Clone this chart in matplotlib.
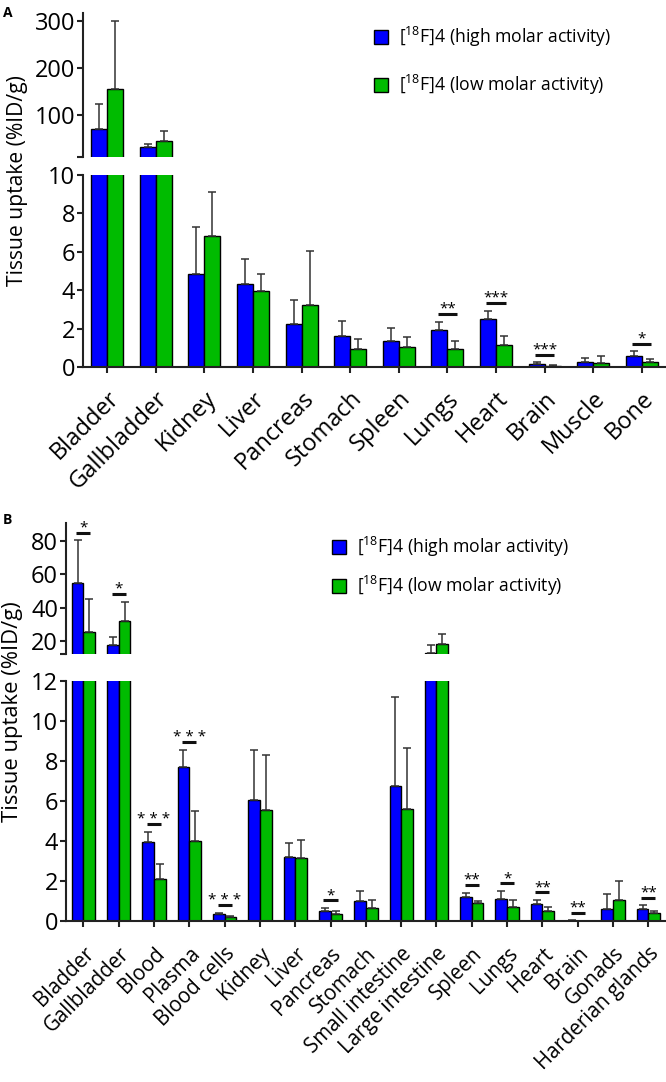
import matplotlib
matplotlib.use('Agg')
import matplotlib.pyplot as plt
import numpy as np
from matplotlib.patches import Patch

plt.rcParams['font.family'] = ['Open Sans', 'DejaVu Sans']
plt.rcParams['mathtext.fontset'] = 'custom'
plt.rcParams['mathtext.rm'] = 'Open Sans'
plt.rcParams['mathtext.it'] = 'Open Sans:italic'
plt.rcParams['mathtext.bf'] = 'Open Sans:bold'

BLUE = '#0000ff'
GREEN = '#00bb00'
AXC = '#222222'

# panel A
tissues_a = ['Bladder', 'Gallbladder', 'Kidney', 'Liver', 'Pancreas', 'Stomach',
             'Spleen', 'Lungs', 'Heart', 'Brain', 'Muscle', 'Bone']
high_a = [71, 33.5, 4.84, 4.34, 2.24, 1.63, 1.37, 1.91, 2.50, 0.18, 0.25, 0.56]
high_a_sd = [53.5, 7, 2.46, 1.30, 1.26, 0.78, 0.65, 0.45, 0.42, 0.07, 0.20, 0.27]
low_a = [156, 46, 6.80, 3.94, 3.21, 0.95, 1.03, 0.94, 1.13, 0.05, 0.22, 0.28]
low_a_sd = [144, 21, 2.33, 0.92, 2.81, 0.49, 0.53, 0.40, 0.48, 0.03, 0.34, 0.15]
sig_a = {'Lungs': '**', 'Heart': '***', 'Brain': '***', 'Bone': '*'}

# panel B
tissues_b = ['Bladder', 'Gallbladder', 'Blood', 'Plasma', 'Blood cells', 'Kidney',
             'Liver', 'Pancreas', 'Stomach', 'Small intestine', 'Large intestine',
             'Spleen', 'Lungs', 'Heart', 'Brain', 'Gonads', 'Harderian glands']
high_b = [55, 17.6, 3.97, 7.69, 0.35, 6.07, 3.19, 0.50, 1.00, 6.74, 13.0,
          1.22, 1.10, 0.85, 0.02, 0.60, 0.62]
high_b_sd = [25.6, 5.0, 0.50, 0.88, 0.06, 2.48, 0.73, 0.15, 0.50, 4.46, 4.5,
             0.20, 0.40, 0.20, 0.01, 0.75, 0.17]
low_b = [25.6, 31.8, 2.09, 4.02, 0.20, 5.55, 3.17, 0.35, 0.65, 5.62, 18.2,
         0.88, 0.68, 0.50, 0.01, 1.05, 0.38]
low_b_sd = [19.4, 11.8, 0.76, 1.47, 0.06, 2.74, 0.90, 0.13, 0.42, 3.03, 6.3,
            0.12, 0.38, 0.22, 0.005, 0.95, 0.13]
sig_b = {'Bladder': '*', 'Gallbladder': '*', 'Blood': '* * *', 'Plasma': '* * *',
         'Blood cells': '* * *', 'Pancreas': '*', 'Spleen': '**', 'Lungs': '*',
         'Heart': '**', 'Brain': '**', 'Harderian glands': '**'}

legend_labels = [r'[$^{18}$F]4 (high molar activity)', r'[$^{18}$F]4 (low molar activity)']

W = 0.33
FIG_H = 1082


def draw_bars(ax, high, high_sd, low, low_sd, ymin):
    x = np.arange(len(high))
    ekw = dict(fmt='none', ecolor='#333333', elinewidth=1.1, capsize=3, capthick=1.1)
    for off, vals, sds, col in [(-W / 2, high, high_sd, BLUE), (W / 2, low, low_sd, GREEN)]:
        vals = np.asarray(vals, float)
        sds = np.asarray(sds, float)
        ax.bar(x + off, vals, W, color=col, edgecolor='black', linewidth=1.0)
        keep = vals >= ymin
        ax.errorbar(x[keep] + off, vals[keep], yerr=[np.zeros(keep.sum()), sds[keep]], **ekw)
    ax.set_xlim(-0.5, len(high) - 0.5)


def style(ax, upper, xsize=16, xpad=12):
    for s in ['top', 'right']:
        ax.spines[s].set_visible(False)
    ax.spines['left'].set_linewidth(1.5)
    ax.spines['left'].set_color(AXC)
    ax.tick_params(axis='y', which='both', length=4, width=1.5, color=AXC,
                   labelsize=17, pad=1.5)
    if upper:
        ax.spines['bottom'].set_visible(False)
        ax.set_xticks([])
        ax.set_yticks([ax.get_ylim()[0]], minor=True)
    else:
        ax.spines['bottom'].set_linewidth(1.5)
        ax.spines['bottom'].set_color(AXC)
        ax.tick_params(axis='x', length=4, width=1.5, color=AXC, labelsize=xsize, pad=xpad)


def px_units(ax):
    lo, hi = ax.get_ylim()
    return (hi - lo) / (ax.get_position().height * FIG_H)


def add_sig(ax_lo, ax_hi, tissues, sig, high, high_sd, low, low_sd):
    for name, label in sig.items():
        i = tissues.index(name)
        top = max(high[i] + high_sd[i], low[i] + low_sd[i])
        ax = ax_lo if top < ax_lo.get_ylim()[1] else ax_hi
        u = px_units(ax)
        y = top + 7.5 * u
        ax.plot([i - 0.2, i + 0.2], [y, y], color='#111111', lw=2.2,
                solid_capstyle='butt', clip_on=False)
        ax.text(i, y + 1.5 * u, label, ha='center', va='baseline', fontsize=11,
                clip_on=False)


def panel(rect_hi, rect_lo, ylim_hi, ylim_lo, ticks_hi, ticks_lo,
          tissues, high, high_sd, low, low_sd, sig, xsize, xpad):
    ax_hi = fig.add_axes(rect_hi)
    ax_lo = fig.add_axes(rect_lo)
    draw_bars(ax_hi, high, high_sd, low, low_sd, ylim_hi[0])
    draw_bars(ax_lo, high, high_sd, low, low_sd, ylim_lo[0])
    ax_hi.set_ylim(*ylim_hi)
    ax_lo.set_ylim(*ylim_lo)
    ax_hi.set_yticks(ticks_hi)
    ax_lo.set_yticks(ticks_lo)
    ax_lo.set_xticks(np.arange(len(tissues)))
    ax_lo.set_xticklabels(tissues, rotation=45, ha='right', rotation_mode='anchor')
    style(ax_hi, True)
    style(ax_lo, False, xsize, xpad)
    add_sig(ax_lo, ax_hi, tissues, sig, high, high_sd, low, low_sd)
    return ax_hi, ax_lo


fig = plt.figure(figsize=(6.66, 10.82), dpi=100)

panel([0.1246, 0.8549, 0.8754, 0.1331], [0.1246, 0.6608, 0.8754, 0.1775],
      (12, 317), (0, 10), [100, 200, 300], [0, 2, 4, 6, 8, 10],
      tissues_a, high_a, high_a_sd, low_a, low_a_sd, sig_a, 17, 10)
panel([0.0987, 0.3956, 0.9013, 0.1211], [0.0987, 0.1488, 0.9013, 0.2218],
      (12.2, 91), (0, 12), [20, 40, 60, 80], [0, 2, 4, 6, 8, 10, 12],
      tissues_b, high_b, high_b_sd, low_b, low_b_sd, sig_b, 14.8, 12)

handles = [Patch(facecolor=BLUE, edgecolor='black', lw=1),
           Patch(facecolor=GREEN, edgecolor='black', lw=1)]
leg_kw = dict(loc='upper left', frameon=False, fontsize=12.7, handlelength=0.8,
              handleheight=0.85, handletextpad=0.6, borderpad=0, borderaxespad=0)
fig.legend(handles, legend_labels, bbox_to_anchor=(0.5616, 0.977),
           labelspacing=1.36, **leg_kw)
fig.legend(handles, legend_labels, bbox_to_anchor=(0.4985, 0.5055),
           labelspacing=0.85, **leg_kw)

fig.text(0.027, 1 - 181 / FIG_H, 'Tissue uptake (%ID/g)', rotation=90,
         ha='center', va='center', fontsize=15.2)
fig.text(0.019, 1 - 712 / FIG_H, 'Tissue uptake (%ID/g)', rotation=90,
         ha='center', va='center', fontsize=15.8)
fig.text(0.004, 0.994, 'A', fontsize=10, weight='bold', va='top')
fig.text(0.004, 1 - 513 / FIG_H, 'B', fontsize=10, weight='bold', va='top')

fig.savefig('out.png', dpi=100)
